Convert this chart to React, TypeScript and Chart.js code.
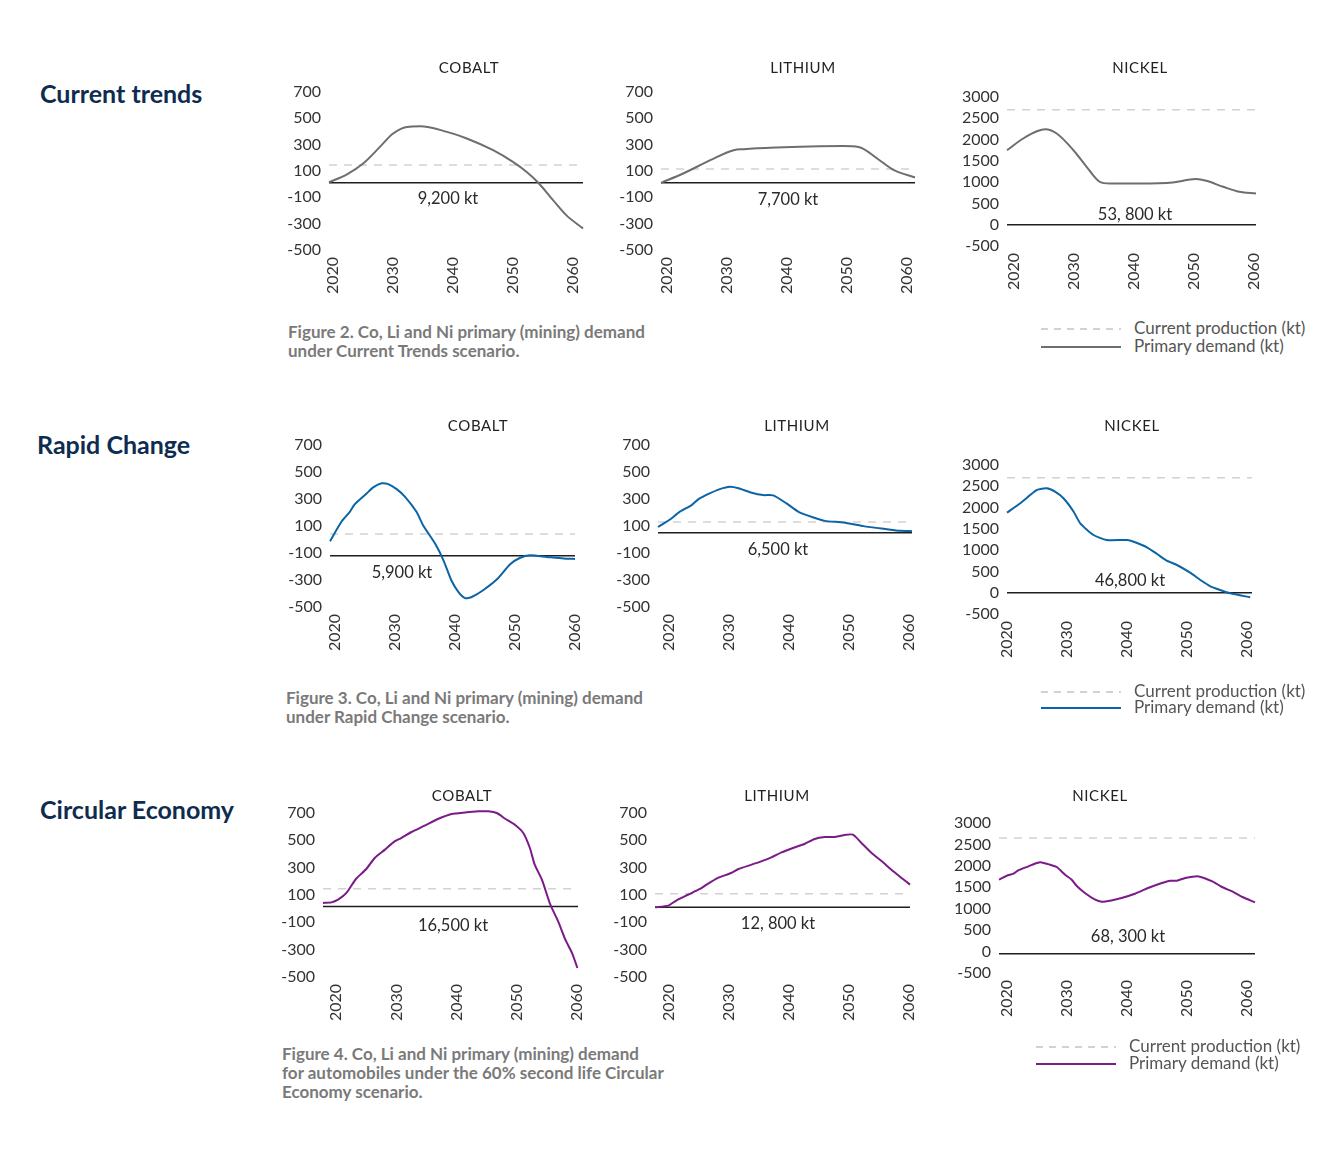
import { useEffect, useRef } from 'react';
import { Chart, registerables } from 'chart.js';

Chart.register(...registerables);

const FONT = 'Lato, "Open Sans", sans-serif';

// axis ticks
const yearTicks = [2020, 2030, 2040, 2050, 2060];
const smallTicks = [-500, -300, -100, 100, 300, 500, 700];
const nickelTicks = [-500, 0, 500, 1000, 1500, 2000, 2500, 3000];

// Current trends
const ctCobaltYears = [2019.3, 2022.3, 2025, 2027.8, 2030, 2032.3, 2034.5, 2039, 2042.3, 2046.7, 2050, 2052.3, 2054.2, 2056.7, 2058.9, 2061.7];
const ctCobaltDemand = [15, 75, 157, 283, 385, 435, 440, 397, 347, 258, 169, 93, 13, -121, -235, -336];
const ctLithiumYears = [2019, 2022.7, 2027.2, 2031.1, 2032.8, 2038.3, 2043.8, 2049.4, 2051.9, 2055, 2057.8, 2061.3];
const ctLithiumDemand = [10, 81, 182, 258, 266, 279, 286, 289, 283, 195, 106, 51];
const ctNickelYears = [2018.8, 2021.5, 2023.8, 2025.2, 2027.1, 2029.9, 2032.1, 2034.3, 2036, 2041, 2046.5, 2048.8, 2050.4, 2052.1, 2054.9, 2057.6, 2060.4];
const ctNickelDemand = [1750, 2025, 2196, 2243, 2142, 1750, 1360, 1008, 970, 970, 994, 1048, 1071, 1031, 891, 773, 736];

// Rapid change
const rcCobaltYears = [2019.2, 2021.1, 2022.5, 2023.3, 2025.3, 2026.4, 2027.8, 2028.9, 2030.3, 2031.7, 2033.6, 2034.7, 2036.7, 2038.1, 2039.4, 2040.6, 2041.7, 2042.8, 2044.7, 2047, 2049.2, 2050.8, 2052.5, 2055.3, 2058.1, 2060];
const rcCobaltDemand = [-13, 131, 205, 260, 341, 386, 416, 410, 373, 316, 205, 106, -30, -154, -302, -389, -434, -426, -376, -295, -183, -137, -117, -129, -141, -144];
const rcLithiumYears = [2018.2, 2020.2, 2021.8, 2023.8, 2024.9, 2026.8, 2028.5, 2030.2, 2031.6, 2033.8, 2035.7, 2037.4, 2039.6, 2041.6, 2044.1, 2046, 2049.1, 2052.4, 2056.3, 2058.5, 2060.5];
const rcLithiumDemand = [93, 148, 205, 255, 297, 341, 373, 390, 379, 346, 329, 327, 267, 205, 163, 138, 126, 99, 76, 64, 62];
const rcNickelYears = [2020, 2022.2, 2025, 2026.6, 2028, 2029.4, 2031.1, 2032.2, 2034.4, 2036.6, 2040, 2041.1, 2043.3, 2045, 2046.6, 2048.3, 2050.5, 2052.2, 2053.8, 2055.5, 2057.2, 2060.5];
const rcNickelDemand = [1880, 2100, 2413, 2452, 2373, 2218, 1903, 1630, 1356, 1238, 1238, 1198, 1067, 909, 752, 651, 470, 298, 157, 64, -14, -108];

// Circular economy
const ceCobaltYears = [2017.8, 2019.2, 2020.3, 2021.7, 2023.3, 2025, 2026.4, 2028.1, 2029.7, 2030.8, 2032.5, 2034.7, 2036.9, 2039.2, 2041.4, 2043.6, 2045.3, 2046.7, 2048.1, 2049.7, 2051.1, 2052.2, 2053, 2054.2, 2055.6, 2056.9, 2058.1, 2059.2, 2060.1];
const ceCobaltDemand = [42, 46, 66, 115, 219, 290, 371, 432, 492, 517, 561, 607, 656, 693, 704, 712, 712, 700, 658, 614, 554, 444, 322, 212, 29, -93, -227, -324, -434];
const ceLithiumYears = [2017.7, 2019.9, 2021.3, 2023.2, 2025.2, 2026.3, 2028.2, 2030.4, 2031.6, 2033.8, 2035.4, 2037.1, 2038.8, 2040.7, 2042.7, 2044.3, 2046, 2047.7, 2049.6, 2050.7, 2052.1, 2053.8, 2055.7, 2057.1, 2058.8, 2060.2];
const ceLithiumDemand = [10, 22, 61, 102, 144, 176, 225, 261, 290, 322, 346, 375, 412, 444, 475, 510, 524, 524, 541, 541, 481, 407, 339, 285, 225, 176];
const ceNickelYears = [2018.7, 2020, 2021.1, 2021.9, 2023.6, 2025, 2025.8, 2027.2, 2028.3, 2029.7, 2030.8, 2031.6, 2033, 2034.7, 2035.8, 2037.4, 2039.1, 2041.3, 2043.5, 2045.8, 2047.2, 2048.3, 2049.7, 2051.9, 2054.2, 2055.8, 2057.5, 2059.2, 2061.3];
const ceNickelDemand = [1677, 1770, 1817, 1894, 1988, 2067, 2081, 2027, 1973, 1794, 1677, 1537, 1367, 1210, 1164, 1194, 1250, 1350, 1483, 1600, 1654, 1654, 1717, 1754, 1638, 1507, 1404, 1273, 1148];

// current production (dashed) and the black reference line, per panel [Co, Li, Ni]
const ctProduction = [145, 115, 2700];
const rcProduction = [40, 130, 2700];
const ceProduction = [145, 110, 2650];
const ctBaseline = [10, 10, 0];
const rcBaseline = [-120, 50, 0];
const ceBaseline = [15, 10, -50];

// cumulative totals
const ctTotals = ['9,200 kt', '7,700 kt', '53, 800 kt'];
const rcTotals = ['5,900 kt', '6,500 kt', '46,800 kt'];
const ceTotals = ['16,500 kt', '12, 800 kt', '68, 300 kt'];

const metals = ['COBALT', 'LITHIUM', 'NICKEL'];

// canvas margins round the plot area (padding kept larger than the scales' own label padding)
const Y_W = 60;
const PAD_T = 26;
const PAD_R = 32;
const X_H = 60;

interface Geo { left: number; right: number; top: number; bottom: number; xMin: number; xMax: number; yMin: number; yMax: number }

interface PanelSpec {
  title: string;
  titleX: number;
  titleY: number;
  years: number[];
  demand: number[];
  production: number;
  baseline: number;
  ticks: number[];
  total: string;
  totalX: number;
  totalY: number;
  color: string;
  geo: Geo;
}

const GREY = '#6e6e6e';
const BLUE = '#0b64a6';
const PURPLE = '#7a1b87';

const panels: PanelSpec[] = [
  { title: metals[0], titleX: 469, titleY: 67, years: ctCobaltYears, demand: ctCobaltDemand, production: ctProduction[0], baseline: ctBaseline[0], ticks: smallTicks, total: ctTotals[0], totalX: 448, totalY: 198, color: GREY,
    geo: { left: 329, right: 583, top: 92, bottom: 250, xMin: 2019.3, xMax: 2061.7, yMin: -500, yMax: 700 } },
  { title: metals[1], titleX: 803, titleY: 67, years: ctLithiumYears, demand: ctLithiumDemand, production: ctProduction[1], baseline: ctBaseline[1], ticks: smallTicks, total: ctTotals[1], totalX: 788, totalY: 199, color: GREY,
    geo: { left: 661, right: 915, top: 92, bottom: 250, xMin: 2019, xMax: 2061.3, yMin: -500, yMax: 700 } },
  { title: metals[2], titleX: 1140, titleY: 67, years: ctNickelYears, demand: ctNickelDemand, production: ctProduction[2], baseline: ctBaseline[2], ticks: nickelTicks, total: ctTotals[2], totalX: 1135, totalY: 214, color: GREY,
    geo: { left: 1007, right: 1256, top: 97, bottom: 246, xMin: 2018.8, xMax: 2060.4, yMin: -500, yMax: 3000 } },

  { title: metals[0], titleX: 478, titleY: 425, years: rcCobaltYears, demand: rcCobaltDemand, production: rcProduction[0], baseline: rcBaseline[0], ticks: smallTicks, total: rcTotals[0], totalX: 402, totalY: 572, color: BLUE,
    geo: { left: 330, right: 575, top: 445, bottom: 607, xMin: 2019.2, xMax: 2060, yMin: -500, yMax: 700 } },
  { title: metals[1], titleX: 797, titleY: 425, years: rcLithiumYears, demand: rcLithiumDemand, production: rcProduction[1], baseline: rcBaseline[1], ticks: smallTicks, total: rcTotals[1], totalX: 778, totalY: 549, color: BLUE,
    geo: { left: 658, right: 912, top: 445, bottom: 607, xMin: 2018.2, xMax: 2060.5, yMin: -500, yMax: 700 } },
  { title: metals[2], titleX: 1132, titleY: 425, years: rcNickelYears, demand: rcNickelDemand, production: rcProduction[2], baseline: rcBaseline[2], ticks: nickelTicks, total: rcTotals[2], totalX: 1130, totalY: 580, color: BLUE,
    geo: { left: 1007, right: 1252, top: 465, bottom: 614, xMin: 2020, xMax: 2060.8, yMin: -500, yMax: 3000 } },

  { title: metals[0], titleX: 462, titleY: 795, years: ceCobaltYears, demand: ceCobaltDemand, production: ceProduction[0], baseline: ceBaseline[0], ticks: smallTicks, total: ceTotals[0], totalX: 453, totalY: 925, color: PURPLE,
    geo: { left: 323, right: 578, top: 813, bottom: 977, xMin: 2017.8, xMax: 2060.2, yMin: -500, yMax: 700 } },
  { title: metals[1], titleX: 777, titleY: 795, years: ceLithiumYears, demand: ceLithiumDemand, production: ceProduction[1], baseline: ceBaseline[1], ticks: smallTicks, total: ceTotals[1], totalX: 778, totalY: 923, color: PURPLE,
    geo: { left: 655, right: 910, top: 813, bottom: 977, xMin: 2017.7, xMax: 2060.2, yMin: -500, yMax: 700 } },
  { title: metals[2], titleX: 1100, titleY: 795, years: ceNickelYears, demand: ceNickelDemand, production: ceProduction[2], baseline: ceBaseline[2], ticks: nickelTicks, total: ceTotals[2], totalX: 1128, totalY: 936, color: PURPLE,
    geo: { left: 999, right: 1255, top: 823, bottom: 973, xMin: 2018.7, xMax: 2061.3, yMin: -500, yMax: 3000 } },
];

function Panel({ spec }: { spec: PanelSpec }) {
  const canvasRef = useRef<HTMLCanvasElement>(null);
  const g = spec.geo;

  useEffect(() => {
    if (!canvasRef.current) return;
    const tickFont = { family: FONT, size: 16 };
    const chart = new Chart(canvasRef.current, {
      type: 'line',
      data: {
        datasets: [
          {
            data: spec.years.map((x, i) => ({ x, y: spec.demand[i] })),
            borderColor: spec.color,
            borderWidth: 2,
            pointRadius: 0,
            clip: false,
            tension: spec.color === GREY ? 0 : 0.2,
            cubicInterpolationMode: spec.color === GREY ? 'monotone' : 'default',
          },
          {
            data: [{ x: g.xMin, y: spec.baseline }, { x: g.xMax, y: spec.baseline }],
            borderColor: '#1e1e1e',
            borderWidth: 1.5,
            pointRadius: 0,
          },
          {
            data: [{ x: g.xMin, y: spec.production }, { x: g.xMax, y: spec.production }],
            borderColor: '#d2d2d2',
            borderWidth: 1.5,
            borderDash: [8, 7],
            pointRadius: 0,
          },
        ],
      },
      options: {
        responsive: true,
        maintainAspectRatio: false,
        animation: false,
        events: [],
        layout: { padding: { left: 0, top: PAD_T, right: PAD_R, bottom: 0 }, autoPadding: false },
        plugins: { legend: { display: false }, tooltip: { enabled: false } },
        scales: {
          x: {
            type: 'linear',
            min: g.xMin,
            max: g.xMax,
            afterBuildTicks: (axis: any) => { axis.ticks = yearTicks.map((value) => ({ value })); },
            afterFit: (axis: any) => { axis.height = X_H; },
            grid: { display: false, drawTicks: false },
            border: { display: false },
            ticks: {
              minRotation: 90,
              maxRotation: 90,
              autoSkip: false,
              padding: 7,
              color: '#333',
              font: tickFont,
              callback: (v: any) => String(v),
            },
          },
          y: {
            type: 'linear',
            min: g.yMin,
            max: g.yMax,
            afterBuildTicks: (axis: any) => { axis.ticks = spec.ticks.map((value) => ({ value })); },
            afterFit: (axis: any) => { axis.width = Y_W; },
            grid: { display: false, drawTicks: false },
            border: { display: false },
            ticks: { autoSkip: false, padding: 8, color: '#333', font: tickFont, callback: (v: any) => String(v) },
          },
        },
      } as any,
    });
    return () => chart.destroy();
  }, [spec]);

  const w = Y_W + (g.right - g.left) + PAD_R;
  const h = PAD_T + (g.bottom - g.top) + X_H;

  return (
    <>
      <div style={{ position: 'absolute', left: g.left - Y_W, top: g.top - PAD_T, width: w, height: h }}>
        <canvas ref={canvasRef} />
      </div>
      <div style={{ position: 'absolute', left: spec.titleX, top: spec.titleY - 10, lineHeight: '20px', fontSize: 15, letterSpacing: 0.6, color: '#222', transform: 'translateX(-50%)', whiteSpace: 'nowrap' }}>
        {spec.title}
      </div>
      <div style={{ position: 'absolute', left: spec.totalX, top: spec.totalY - 10, lineHeight: '20px', fontSize: 16.5, color: '#2a2a2a', transform: 'translateX(-50%)', whiteSpace: 'nowrap' }}>
        {spec.total}
      </div>
    </>
  );
}

function Legend({ x1, x2, tx, yDash, ySolid, color }: { x1: number; x2: number; tx: number; yDash: number; ySolid: number; color: string }) {
  const text = { position: 'absolute' as const, left: tx, lineHeight: '20px', fontSize: 17, color: '#555', whiteSpace: 'nowrap' as const };
  return (
    <>
      <div style={{ position: 'absolute', left: x1, top: yDash - 0.75, width: x2 - x1, height: 1.5, background: 'repeating-linear-gradient(to right, #d2d2d2 0 7px, transparent 7px 13px)' }} />
      <div style={{ position: 'absolute', left: x1, top: ySolid - 1, width: x2 - x1, height: 2, background: color }} />
      <div style={{ ...text, top: yDash - 11 }}>Current production (kt)</div>
      <div style={{ ...text, top: ySolid - 11 }}>Primary demand (kt)</div>
    </>
  );
}

const rowTitle = { position: 'absolute' as const, lineHeight: '30px', fontSize: 25, fontWeight: 700, color: '#0e2c50', whiteSpace: 'nowrap' as const };
const caption = { position: 'absolute' as const, lineHeight: '19px', fontSize: 17, fontWeight: 700, color: '#7a7a7a', whiteSpace: 'nowrap' as const };

export default function App() {
  return (
    <div style={{ position: 'absolute', left: 0, top: 0, width: 1344, height: 1149, background: '#fff', fontFamily: FONT, overflow: 'hidden' }}>
      <div style={{ ...rowTitle, left: 40, top: 93 - 15 }}>Current trends</div>
      <div style={{ ...rowTitle, left: 37, top: 444 - 15 }}>Rapid Change</div>
      <div style={{ ...rowTitle, left: 40, top: 809 - 15 }}>Circular Economy</div>

      {panels.map((p, i) => (
        <Panel key={i} spec={p} />
      ))}

      <div style={{ ...caption, left: 288, top: 331 - 9.5 }}>
        Figure 2. Co, Li and Ni primary (mining) demand<br />under Current Trends scenario.
      </div>
      <div style={{ ...caption, left: 286, top: 697 - 9.5 }}>
        Figure 3. Co, Li and Ni primary (mining) demand<br />under Rapid Change scenario.
      </div>
      <div style={{ ...caption, left: 282, top: 1053 - 9.5 }}>
        Figure 4. Co, Li and Ni primary (mining) demand<br />for automobiles under the 60% second life Circular<br />Economy scenario.
      </div>

      <Legend x1={1041} x2={1121} tx={1134} yDash={329} ySolid={347} color={GREY} />
      <Legend x1={1041} x2={1121} tx={1134} yDash={692} ySolid={708} color={BLUE} />
      <Legend x1={1036} x2={1116} tx={1129} yDash={1047} ySolid={1064} color={PURPLE} />
    </div>
  );
}
